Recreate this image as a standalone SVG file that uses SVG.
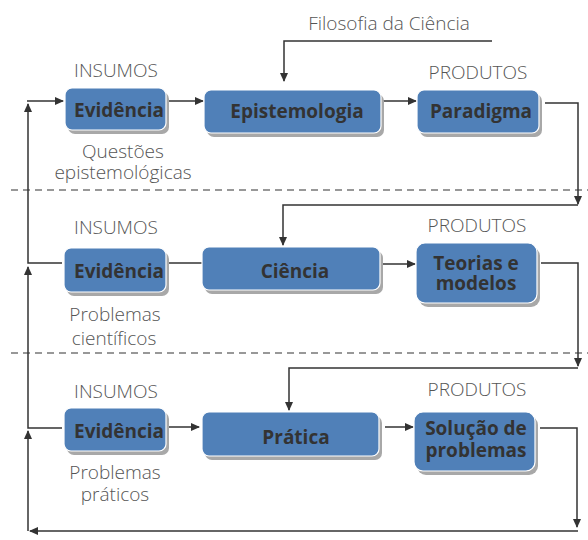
<svg xmlns="http://www.w3.org/2000/svg" width="588" height="540" viewBox="0 0 588 540">
<defs>
<marker id="ah" markerWidth="9" markerHeight="8" refX="8" refY="4" orient="auto" markerUnits="userSpaceOnUse">
<path d="M0,0 L9,4 L0,8 Z" fill="#333"/>
</marker>
</defs>
<style>
.box{fill:#5080b8;stroke:#ffffff;stroke-width:1.2}
.shadow{fill:#a8a8a8}
.lbl{font-family:"Open Sans","Noto Sans",sans-serif;font-weight:700;font-size:19px;fill:#333;text-anchor:middle}
.note{font-family:"Open Sans","Noto Sans",sans-serif;font-weight:300;font-size:19px;fill:#555;text-anchor:middle}
.ln{fill:none;stroke:#333;stroke-width:1.5}
.arr{fill:none;stroke:#333;stroke-width:1.5;marker-end:url(#ah)}
.dash{fill:none;stroke:#333;stroke-width:1.2;stroke-dasharray:7 5}
</style>
<rect width="588" height="540" fill="#fff"/>

<g id="separators">
<line class="dash" x1="11" y1="190" x2="588" y2="190"/>
<line class="dash" x1="11" y1="353" x2="588" y2="353"/>
</g>

<g id="labels">
<text class="note" x="389" y="30">Filosofia da Ciência</text>
<text class="note" x="116" y="77">INSUMOS</text>
<text class="note" x="478" y="79">PRODUTOS</text>
<text class="note" x="123" y="158">Questões</text>
<text class="note" x="123" y="179">epistemológicas</text>
<text class="note" x="116" y="234">INSUMOS</text>
<text class="note" x="477" y="232">PRODUTOS</text>
<text class="note" x="115" y="321">Problemas</text>
<text class="note" x="114" y="345">científicos</text>
<text class="note" x="116" y="398">INSUMOS</text>
<text class="note" x="477" y="396">PRODUTOS</text>
<text class="note" x="115" y="479">Problemas</text>
<text class="note" x="115" y="501">práticos</text>
</g>

<g id="connectors">
<path class="arr" d="M492 41 H284 V81"/>
<path class="arr" d="M168 101 H203"/>
<path class="arr" d="M382 101 H416"/>
<path class="arr" d="M545 103 H578 V204"/>
<path class="arr" d="M578 205 H283 V245"/>
<path class="ln" d="M168 263 H202"/>
<path class="arr" d="M382 264 H415"/>
<path class="arr" d="M541 263 H578 V366"/>
<path class="arr" d="M578 368 H289 V410"/>
<path class="arr" d="M169 427 H199"/>
<path class="arr" d="M385 427 H413"/>
<path class="arr" d="M540 428 H577 V527"/>
<path class="arr" d="M578 531 H30"/>
<path class="arr" d="M28 531 V431"/>
<path class="arr" d="M62 428 H28 V267"/>
<path class="arr" d="M62 263 H28 V104"/>
<path class="arr" d="M27 101 H63"/>
</g>

<g id="ev1">
<rect class="shadow" x="68" y="92" width="101" height="42" rx="7"/>
<rect class="box" x="65" y="88" width="101" height="42" rx="7"/>
<text class="lbl" x="119" y="117">Evidência</text>
</g>
<g id="epistemologia">
<rect class="shadow" x="207" y="94" width="177" height="43" rx="7"/>
<rect class="box" x="204" y="90" width="177" height="43" rx="7"/>
<text class="lbl" x="297" y="118">Epistemologia</text>
</g>
<g id="paradigma">
<rect class="shadow" x="420" y="94" width="122" height="43" rx="7"/>
<rect class="box" x="417" y="90" width="122" height="43" rx="7"/>
<text class="lbl" x="481" y="118">Paradigma</text>
</g>

<g id="ev2">
<rect class="shadow" x="67" y="252" width="102" height="44" rx="7"/>
<rect class="box" x="64" y="248" width="102" height="44" rx="7"/>
<text class="lbl" x="119" y="278">Evidência</text>
</g>
<g id="ciencia">
<rect class="shadow" x="205" y="251" width="178" height="43" rx="7"/>
<rect class="box" x="202" y="247" width="178" height="43" rx="7"/>
<text class="lbl" x="295" y="278">Ciência</text>
</g>
<g id="teorias">
<rect class="shadow" x="419" y="247" width="121" height="60" rx="9"/>
<rect class="box" x="416" y="243" width="121" height="60" rx="9"/>
<text class="lbl" x="476" y="270">Teorias e</text>
<text class="lbl" x="476" y="290">modelos</text>
</g>

<g id="ev3">
<rect class="shadow" x="67" y="412" width="102" height="43" rx="7"/>
<rect class="box" x="64" y="408" width="102" height="43" rx="7"/>
<text class="lbl" x="119" y="438">Evidência</text>
</g>
<g id="pratica">
<rect class="shadow" x="205" y="416" width="177" height="44" rx="7"/>
<rect class="box" x="202" y="412" width="177" height="44" rx="7"/>
<text class="lbl" x="296" y="444">Prática</text>
</g>
<g id="solucao">
<rect class="shadow" x="417" y="416" width="121" height="59" rx="9"/>
<rect class="box" x="414" y="412" width="121" height="59" rx="9"/>
<text class="lbl" x="476" y="435">Solução de</text>
<text class="lbl" x="476" y="457">problemas</text>
</g>
</svg>
